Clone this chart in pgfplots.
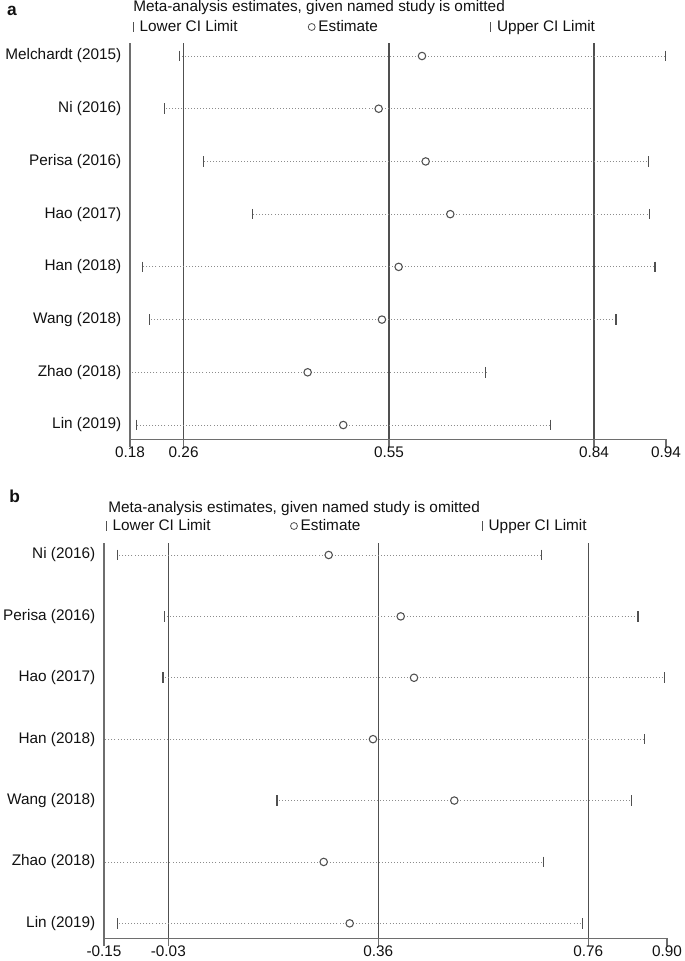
\documentclass[border=0pt]{standalone}
\usepackage{fontspec}
\setmainfont{Liberation Sans}
\usepackage{pgfplots}
\pgfplotsset{compat=1.18}
\usepackage{pgfplotstable}

\definecolor{refline}{HTML}{505050}
\definecolor{axisgray}{HTML}{6E6E6E}
\definecolor{dotgray}{HTML}{8C8C8C}
\definecolor{markgray}{HTML}{505050}
\definecolor{txt}{HTML}{111111}

% panel a: y = row position, lo = lower CI, est = estimate, hi = upper CI
\pgfplotstableread{
y lo est hi
8 0.2548 0.5969 0.9414
7 0.2331 0.5357 0.8390
6 0.2887 0.6021 0.9168
5 0.3570 0.6369 0.9182
4 0.2020 0.5639 0.9262
3 0.2114 0.5403 0.8711
2 0.1700 0.4353 0.6873
1 0.1936 0.4856 0.7792
}\dataA

% panel b
\pgfplotstableread{
y lo est hi
7 -0.1260 0.2717 0.6724
6 -0.0368 0.4072 0.8536
5 -0.0400 0.4322 0.9040
4 -0.2000 0.3550 0.8650
3 0.1745 0.5080 0.8420
2 -0.2000 0.2623 0.6760
1 -0.1260 0.3112 0.7495
}\dataB

\newcommand{\fs}{\fontsize{11.5}{13.8}\selectfont}

\pgfplotsset{
  metastyle/.style={
    scale only axis, anchor=south west,
    axis x line*=bottom, axis y line*=left,
    axis line style={axisgray, line width=0.9pt},
    tick align=outside, major tick length=6pt,
    xtick style={axisgray, line width=0.9pt},
    ytick style={draw=none},
    font=\fs,
    tick label style={font=\fs, text=txt},
    yticklabel style={xshift=3pt},
    xticklabel style={yshift=4pt},
    /pgf/number format/assume math mode=true,
    legend columns=3,
    legend cell align=left,
    legend style={draw=none, fill=none, inner sep=0pt, outer sep=0pt,
      nodes={inner sep=1pt, text=txt}, font=\fs,
      /tikz/every even column/.style={column sep=0pt},
      /tikz/every odd column/.style={column sep=0pt}},
  },
  limitbar/.style={legend image code/.code={
      \draw[markgray, line width=0.6pt] (4pt,-3.5pt) -- (4pt,3.5pt);
      \path[draw=none, fill=none] (0pt,0pt) -- (8pt,0pt);}},
  estcircle/.style={legend image code/.code={
      \draw[markgray, fill=white, line width=0.6pt] (4pt,0pt) circle (2.6pt);
      \path[draw=none, fill=none] (0pt,0pt) -- (8pt,0pt);}},
  cidots/.style={forget plot, only marks, mark=none,
      error bars/.cd, x dir=both, x explicit, error mark=none,
      error bar style={dotgray, line width=0.6pt, dash pattern=on 0.7pt off 1.6pt}},
  cimark/.style={forget plot, only marks, mark=|, mark size=4pt,
      mark options={markgray, line width=0.8pt}},
  estmark/.style={forget plot, only marks, mark=*, mark size=2.8pt,
      mark options={draw=markgray, fill=white, line width=0.8pt}},
  refl/.style={forget plot, refline, line width=1pt},
}

\begin{document}
\begin{tikzpicture}
\useasboundingbox (0pt,0pt) rectangle (513.75pt,-720.75pt);

% ---------------- panel a ----------------
\node[anchor=center, font=\bfseries\fontsize{13}{15}\selectfont, text=txt] at (9pt,-8pt) {a};
\node[anchor=west, font=\fs, text=txt, inner sep=0pt] at (99.75pt,-6pt) {Meta-analysis estimates, given named study is omitted};

\begin{axis}[metastyle,
  at={(97.5pt,-329.475pt)},
  width=402pt, height=297pt,
  xmin=0.1842, xmax=0.9418, ymin=0.729, ymax=8.241,
  xtick={0.1842,0.26,0.5502,0.84,0.9418},
  xticklabels={0.18,0.26,0.55,0.84,0.94},
  ytick={1,2,3,4,5,6,7,8},
  yticklabels={Lin (2019),Zhao (2018),Wang (2018),Han (2018),Hao (2017),Perisa (2016),Ni (2016),Melchardt (2015)},
  legend style={at={(-0.0043,1.0412)}, anchor=west},
]
\addlegendimage{limitbar}
\addlegendimage{estcircle}
\addlegendimage{limitbar}
\legend{\makebox[124pt][l]{Lower CI Limit},\makebox[124pt][l]{Estimate},Upper CI Limit}

\addplot[refl] coordinates {(0.26,0.729) (0.26,8.241)};
\addplot[refl] coordinates {(0.5502,0.729) (0.5502,8.241)};
\addplot[refl] coordinates {(0.84,0.729) (0.84,8.241)};

\addplot[cidots] table[x=est, y=y,
  x error plus expr=\thisrow{hi}-\thisrow{est},
  x error minus expr=\thisrow{est}-\thisrow{lo}] {\dataA};
\addplot[cimark] table[x=lo, y=y] {\dataA};
\addplot[cimark] table[x=hi, y=y] {\dataA};
\addplot[estmark] table[x=est, y=y] {\dataA};
\end{axis}

% ---------------- panel b ----------------
\node[anchor=center, font=\bfseries\fontsize{13}{15}\selectfont, text=txt] at (11pt,-372pt) {b};
\node[anchor=west, font=\fs, text=txt, inner sep=0pt] at (81pt,-381.75pt) {Meta-analysis estimates, given named study is omitted};

\begin{axis}[metastyle,
  at={(78pt,-703.725pt)},
  width=422.2pt, height=296.7pt,
  xmin=-0.151, xmax=0.908, ymin=0.756, ymax=7.2,
  xtick={-0.151,-0.03,0.365,0.76,0.908},
  xticklabels={-0.15,-0.03,0.36,0.76,0.90},
  ytick={1,2,3,4,5,6,7},
  yticklabels={Lin (2019),Zhao (2018),Wang (2018),Han (2018),Hao (2017),Perisa (2016),Ni (2016)},
  legend style={at={(-0.0059,1.0422)}, anchor=west},
]
\addlegendimage{limitbar}
\addlegendimage{estcircle}
\addlegendimage{limitbar}
\legend{\makebox[131pt][l]{Lower CI Limit},\makebox[131pt][l]{Estimate},Upper CI Limit}

\addplot[refl] coordinates {(-0.03,0.756) (-0.03,7.2)};
\addplot[refl] coordinates {(0.365,0.756) (0.365,7.2)};
\addplot[refl] coordinates {(0.76,0.756) (0.76,7.2)};

\addplot[cidots] table[x=est, y=y,
  x error plus expr=\thisrow{hi}-\thisrow{est},
  x error minus expr=\thisrow{est}-\thisrow{lo}] {\dataB};
\addplot[cimark] table[x=lo, y=y] {\dataB};
\addplot[cimark] table[x=hi, y=y] {\dataB};
\addplot[estmark] table[x=est, y=y] {\dataB};
\end{axis}
\end{tikzpicture}
\end{document}
